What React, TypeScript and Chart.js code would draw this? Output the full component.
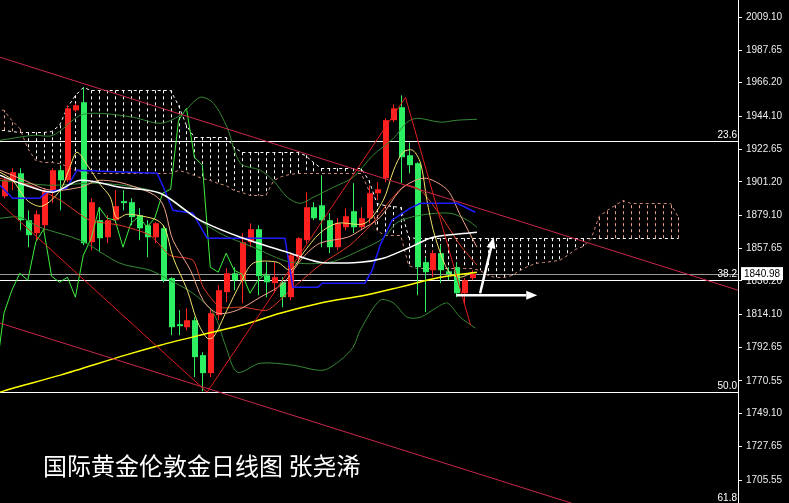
import React, { useEffect, useRef } from "react";
import { Chart, registerables } from "chart.js";
Chart.register(...registerables);

type P = [number, number];

// ---- Candles (index 0..59) ----
const opens = [1891.7, 1902.2, 1906.8, 1876.0, 1867.5, 1872.7, 1895.7, 1908.8, 1902.2, 1948.1,
  1953.4, 1861.6, 1876.0, 1864.8, 1876.0, 1888.5, 1887.8, 1879.3, 1872.7, 1864.8,
  1870.7, 1838.0, 1807.8, 1805.8, 1810.4, 1787.5, 1775.7, 1813.7, 1828.8, 1841.2,
  1836.6, 1861.6, 1870.1, 1839.9, 1834.7, 1835.3, 1825.5, 1851.7, 1862.9, 1884.5,
  1885.8, 1876.0, 1858.3, 1871.4, 1881.9, 1871.4, 1877.3, 1893.7, 1903.5, 1941.6,
  1950.1, 1918.6, 1913.4, 1848.5, 1843.2, 1854.4, 1842.5, 1845.2, 1828.1, 1838.0];
const highs = [1903.5, 1910.1, 1910.1, 1882.5, 1882.5, 1897.0, 1910.1, 1912.1, 1951.4, 1952.7,
  1963.2, 1890.4, 1884.5, 1879.3, 1895.7, 1895.7, 1890.4, 1883.9, 1876.0, 1874.7,
  1872.7, 1838.6, 1817.0, 1818.3, 1812.4, 1789.4, 1818.3, 1833.4, 1844.5, 1845.2,
  1867.5, 1874.0, 1872.7, 1848.5, 1848.5, 1838.6, 1854.4, 1864.8, 1894.4, 1887.8,
  1905.5, 1880.6, 1877.3, 1883.9, 1900.3, 1884.5, 1898.9, 1900.9, 1942.9, 1952.0,
  1957.9, 1927.1, 1914.0, 1851.7, 1856.3, 1859.6, 1845.2, 1848.5, 1838.0, 1843.2];
const lows = [1890.4, 1895.7, 1869.4, 1858.3, 1862.9, 1869.4, 1887.1, 1882.5, 1901.0, 1946.8,
  1859.6, 1856.3, 1855.0, 1860.9, 1874.0, 1882.5, 1872.7, 1862.9, 1851.7, 1860.9,
  1835.3, 1800.6, 1800.6, 1803.8, 1773.0, 1763.8, 1773.0, 1810.4, 1822.2, 1830.1,
  1821.6, 1858.3, 1826.8, 1825.5, 1828.8, 1818.9, 1823.5, 1848.5, 1860.9, 1876.0,
  1858.3, 1854.4, 1856.3, 1869.4, 1867.5, 1869.4, 1874.0, 1889.1, 1900.9, 1940.3,
  1900.3, 1906.8, 1826.8, 1815.7, 1838.6, 1834.7, 1836.6, 1825.5, 1821.0, 1836.6];
const closes = [1902.2, 1907.5, 1876.0, 1866.2, 1879.9, 1894.4, 1908.8, 1902.2, 1949.4, 1951.4,
  1860.9, 1887.8, 1864.2, 1876.0, 1885.2, 1887.2, 1878.0, 1870.7, 1864.8, 1874.0,
  1836.6, 1805.8, 1806.5, 1810.4, 1786.2, 1775.7, 1815.0, 1830.1, 1841.2, 1836.6,
  1861.6, 1870.1, 1839.3, 1835.3, 1838.6, 1825.5, 1853.0, 1864.2, 1884.5, 1877.3,
  1876.0, 1858.3, 1874.0, 1878.6, 1871.4, 1877.3, 1893.7, 1896.3, 1941.6, 1949.4,
  1917.3, 1912.1, 1845.2, 1841.9, 1854.4, 1843.2, 1840.6, 1828.1, 1836.6, 1840.98];

// ---- Ichimoku cloud (index -1..85) ----
const cloudStart = -1;
const spanA = [1935.0, 1935.0, 1934.3, 1933.7, 1933.7, 1933.7, 1933.7, 1934.3, 1938.3, 1950.1, 1958.0, 1963.2,
  1961.2, 1961.2, 1961.2, 1961.2, 1961.2, 1961.2, 1961.2, 1961.2, 1961.2, 1961.2, 1961.2,
  1951.4, 1938.3,
  1930.4, 1930.4, 1930.4, 1930.4, 1930.4,
  1923.9,
  1920.6, 1920.6, 1920.6, 1920.6, 1920.6, 1920.6, 1920.6, 1920.6,
  1918.6, 1914.0,
  1910.1, 1910.1, 1910.1, 1910.1, 1910.1, 1910.1,
  1902.2, 1887.1, 1885.8, 1885.2, 1884.5, 1864.8,
  1864.2, 1864.2, 1864.2, 1864.2, 1864.2, 1864.2, 1864.2, 1864.2, 1864.2, 1864.2,
  1864.2, 1864.2, 1864.2, 1864.2, 1864.2, 1864.2, 1864.2, 1864.2, 1864.2, 1864.2,
  1864.2, 1864.2, 1864.2, 1864.2, 1864.2, 1864.2, 1864.2, 1864.2, 1864.2, 1864.2,
  1864.2, 1864.2, 1864.2, 1864.2];
const spanB = [1949.4, 1948.1, 1941.6, 1936.3, 1923.2, 1915.3, 1914.0, 1914.0, 1913.4, 1911.4, 1908.8, 1907.5,
  1906.8, 1906.8, 1906.8, 1906.8, 1906.8, 1906.8, 1906.8, 1906.8, 1906.8, 1906.8, 1906.8,
  1908.8, 1907.5, 1905.5, 1903.5, 1902.2, 1900.3, 1898.9, 1895.7, 1894.4,
  1892.4, 1892.4, 1892.4,
  1902.2, 1904.8, 1906.2,
  1906.8, 1906.8, 1906.8, 1906.8, 1906.8, 1906.8, 1906.8, 1906.8, 1906.8,
  1895.7, 1869.4,
  1866.2, 1866.2, 1866.2,
  1846.5,
  1844.5, 1844.5, 1844.5, 1844.5, 1844.5, 1844.5, 1844.5, 1844.5,
  1843.2, 1839.9, 1838.6, 1838.6, 1839.9, 1843.2, 1845.8, 1847.8, 1848.5, 1849.1,
  1849.8, 1853.0, 1857.0, 1858.9, 1864.2, 1878.6, 1882.5, 1885.8, 1889.1,
  1887.1, 1887.1, 1887.1, 1887.1, 1887.1, 1887.1,
  1878.0];

// ---- Indicator lines [index, price] ----
const maLong: P[] = [[-0.5, 1763.2], [1.1, 1765.8], [7.1, 1774.4], [15.3, 1787.5], [19.7, 1794.0], [24.7, 1800.6],
  [30.4, 1807.8], [34.8, 1815.0], [39.8, 1821.6], [45.5, 1826.8], [49.9, 1832.1], [55.0, 1838.6], [59.6, 1841.9]];
const maWhite: P[] = [[-0.5, 1905.5], [2.0, 1900.3], [6.2, 1894.4], [9.6, 1902.2], [14.6, 1897.6], [19.7, 1893.7],
  [24.7, 1876.0], [29.8, 1864.8], [35.7, 1855.0], [39.8, 1848.5], [44.9, 1848.5], [47.8, 1851.1], [51.2, 1858.3],
  [54.1, 1864.8], [59.6, 1868.1]];
const kijun: P[] = [[-0.5, 1898.9], [1.1, 1890.4], [4.5, 1890.4], [5.4, 1894.4], [7.9, 1897.0], [9.2, 1908.8],
  [19.3, 1906.8], [20.1, 1897.6], [21.3, 1882.5], [23.8, 1880.6], [25.6, 1864.2], [35.4, 1864.2], [36.4, 1832.1],
  [39.6, 1832.1], [40.1, 1834.7], [45.5, 1834.7], [46.4, 1843.2], [47.4, 1859.6], [48.9, 1876.0], [51.2, 1883.9],
  [52.5, 1887.1], [57.1, 1887.1], [59.4, 1881.2]];
const maFast: P[] = [[-0.5, 1907.5], [1.1, 1902.2], [2.9, 1889.1], [4.8, 1885.2], [7.1, 1895.7], [8.3, 1910.7],
  [9.2, 1920.6], [10.5, 1912.1], [12.1, 1899.6], [13.4, 1891.1], [14.2, 1877.3], [15.5, 1879.9], [17.5, 1878.6],
  [19.3, 1876.0], [20.3, 1870.7], [21.3, 1851.7], [23.1, 1830.1], [24.3, 1810.4], [25.6, 1798.6], [26.4, 1799.3],
  [28.1, 1817.0], [29.8, 1834.7], [31.4, 1847.8], [34.4, 1848.5], [36.1, 1843.2], [37.7, 1854.4], [39.8, 1867.5],
  [42.0, 1874.0], [45.5, 1874.0], [47.8, 1889.1], [49.1, 1908.8], [50.3, 1920.6], [51.5, 1921.9], [52.5, 1913.4],
  [53.3, 1889.1], [54.1, 1869.4], [55.2, 1851.7], [56.2, 1841.2], [57.5, 1838.6], [59.1, 1841.9]];
const maSalmon: P[] = [[-0.5, 1908.8], [2.0, 1903.5], [5.8, 1895.7], [9.6, 1897.6], [12.1, 1902.2], [15.9, 1898.9],
  [19.7, 1889.1], [21.3, 1862.9], [23.5, 1843.2], [25.1, 1823.5], [26.9, 1815.0], [29.4, 1817.0], [32.3, 1825.5],
  [35.2, 1834.7], [37.7, 1851.7], [39.8, 1860.9], [43.3, 1864.8], [44.9, 1869.4], [47.4, 1877.9], [49.9, 1895.7],
  [51.6, 1901.6], [53.3, 1903.5], [55.9, 1895.7], [57.5, 1879.3], [59.6, 1858.3]];
const maRed: P[] = [[-0.5, 1903.5], [3.3, 1898.9], [7.1, 1889.1], [10.8, 1876.0], [14.6, 1872.7], [18.4, 1866.2],
  [20.9, 1853.0], [23.8, 1849.8], [25.1, 1832.1], [27.2, 1819.0], [30.1, 1819.0], [33.2, 1817.0], [36.1, 1830.1],
  [39.8, 1846.5], [43.6, 1859.6], [46.2, 1872.7], [48.7, 1889.1], [50.6, 1898.9], [52.5, 1895.7], [55.0, 1879.3],
  [57.5, 1859.6], [59.6, 1846.5]];
const bbUpper: P[] = [[-0.5, 1928.4], [3.7, 1931.7], [6.2, 1931.7], [9.6, 1944.8], [12.1, 1946.1], [16.3, 1943.5],
  [19.7, 1939.6], [22.2, 1944.8], [24.7, 1956.6], [26.4, 1952.7], [28.1, 1937.0], [29.8, 1913.4], [32.3, 1908.8],
  [33.9, 1902.2], [35.7, 1891.1], [37.3, 1887.1], [39.0, 1891.1], [41.5, 1897.6], [44.0, 1904.2], [46.5, 1918.6],
  [49.1, 1929.8], [50.8, 1940.3], [52.1, 1942.9], [55.0, 1940.3], [57.1, 1941.6], [59.6, 1942.2]];
const bbMid: P[] = [[-0.5, 1902.2], [5.8, 1898.9], [12.1, 1900.3], [19.3, 1894.4], [23.1, 1881.2], [27.2, 1867.5],
  [31.4, 1858.3], [36.1, 1848.5], [41.1, 1848.5], [44.9, 1856.3], [47.8, 1864.2], [49.6, 1874.7], [52.5, 1879.3],
  [56.2, 1880.6], [58.4, 1876.0], [59.6, 1871.4]];
const bbLower: P[] = [[-0.5, 1877.3], [2.0, 1878.0], [4.5, 1871.4], [9.6, 1862.9], [14.6, 1847.8], [18.4, 1843.2],
  [20.9, 1836.6], [23.8, 1828.1], [26.4, 1815.0], [27.9, 1794.0], [29.4, 1776.3], [32.3, 1782.2], [36.4, 1780.9],
  [40.2, 1777.6], [42.4, 1784.2], [44.0, 1792.7], [44.9, 1803.9], [47.4, 1823.5], [49.1, 1821.6], [50.8, 1812.4],
  [52.5, 1812.4], [54.6, 1819.0], [55.9, 1821.6], [57.5, 1812.4], [59.4, 1805.2]];
const chikouShift = 26;

// ---- Axis, levels, drawings ----
const priceTicks = [2009.10, 1987.65, 1966.20, 1944.10, 1922.65, 1901.20, 1879.10, 1857.65, 1836.20, 1814.10,
  1792.65, 1770.55, 1749.10, 1727.65, 1705.55];
const fibLevels = [1927.8, 1836.6, 1763.2, 1689.6];
const fibLabels = ["23.6", "38.2", "50.0", "61.8"];
const lastPrice = 1840.98;
const trendLines: [P, P, string][] = [
  [[-0.5, 1982.9], [92.5, 1830.1], "#c8284a"],
  [[-0.5, 1808.5], [92.5, 1656.0], "#c8284a"],
  [[-0.5, 1887.1], [25.6, 1763.2], "#e01c1c"],
  [[25.6, 1763.2], [50.6, 1956.6], "#e01c1c"],
  [[50.6, 1956.6], [58.8, 1807.1], "#e01c1c"],
];
const arrows: [P, P][] = [
  [[57.0, 1826.8], [67.2, 1826.8]],
  [[60.0, 1828.1], [61.7, 1864.8]],
];
const titleText = "国际黄金伦敦金日线图 张尧浠";

const X_MIN = -0.5, X_MAX = 92.5, Y_MIN = 1690.5, Y_MAX = 2020.45;

const underlay = {
  id: "underlay",
  beforeDatasetsDraw(c: any) {
    const { ctx, chartArea: a, scales } = c;
    const x = scales.x, y = scales.y;
    ctx.save();
    ctx.beginPath();
    ctx.rect(a.left, a.top, a.right - a.left, a.bottom - a.top);
    ctx.clip();
    // fib lines
    ctx.lineWidth = 1;
    ctx.strokeStyle = "#ffffff";
    fibLevels.forEach((v) => {
      const py = Math.round(y.getPixelForValue(v)) + 0.5;
      ctx.beginPath(); ctx.moveTo(a.left, py); ctx.lineTo(a.right, py); ctx.stroke();
    });
    const lp = Math.round(y.getPixelForValue(lastPrice)) + 0.5;
    ctx.strokeStyle = "#9a9a9a";
    ctx.beginPath(); ctx.moveTo(a.left, lp); ctx.lineTo(a.right, lp); ctx.stroke();
    // cloud hatch
    ctx.setLineDash([3, 3]);
    for (let k = 0; k < spanA.length; k++) {
      const px = Math.round(x.getPixelForValue(cloudStart + k)) + 0.5;
      const ya = y.getPixelForValue(spanA[k]);
      const yb = y.getPixelForValue(spanB[k]);
      ctx.strokeStyle = spanA[k] >= spanB[k] ? "#ffffff" : "#e8a090";
      ctx.beginPath(); ctx.moveTo(px, ya); ctx.lineTo(px, yb); ctx.stroke();
    }
    const edge = (arr: number[], color: string) => {
      ctx.strokeStyle = color;
      ctx.beginPath();
      arr.forEach((v, k) => {
        const px = x.getPixelForValue(cloudStart + k);
        const py = Math.round(y.getPixelForValue(v)) + 0.5;
        if (k) ctx.lineTo(px, py); else ctx.moveTo(px, py);
      });
      ctx.stroke();
    };
    edge(spanA, "#ffffff");
    edge(spanB, "#d08a7a");
    ctx.setLineDash([]);
    // candles
    const w = 6;
    for (let i = 0; i < opens.length; i++) {
      const up = closes[i] >= opens[i];
      const col = up ? "#ff2020" : "#2cef62";
      const cx = Math.round(x.getPixelForValue(i));
      ctx.fillStyle = col;
      const yh = y.getPixelForValue(highs[i]);
      const yl = y.getPixelForValue(lows[i]);
      ctx.fillRect(cx, yh, 1, yl - yh);
      const yo = y.getPixelForValue(opens[i]);
      const yc = y.getPixelForValue(closes[i]);
      const top = Math.min(yo, yc);
      const h = Math.max(Math.abs(yo - yc), 1.5);
      ctx.fillRect(cx - 2, top, w, h);
    }
    ctx.restore();
  },
};

const overlay = {
  id: "overlay",
  afterDatasetsDraw(c: any) {
    const { ctx, chartArea: a, scales } = c;
    const x = scales.x, y = scales.y;
    ctx.save();
    ctx.beginPath();
    ctx.rect(a.left, a.top, a.right - a.left, a.bottom - a.top);
    ctx.clip();
    ctx.lineWidth = 1;
    trendLines.forEach(([p1, p2, col]) => {
      ctx.strokeStyle = col;
      ctx.beginPath();
      ctx.moveTo(x.getPixelForValue(p1[0]), y.getPixelForValue(p1[1]));
      ctx.lineTo(x.getPixelForValue(p2[0]), y.getPixelForValue(p2[1]));
      ctx.stroke();
    });
    ctx.strokeStyle = "#ffffff";
    ctx.fillStyle = "#ffffff";
    ctx.lineWidth = 2.5;
    arrows.forEach(([p1, p2]) => {
      const x1 = x.getPixelForValue(p1[0]), y1 = y.getPixelForValue(p1[1]);
      const x2 = x.getPixelForValue(p2[0]), y2 = y.getPixelForValue(p2[1]);
      const ang = Math.atan2(y2 - y1, x2 - x1);
      const L = 11, W = 4.5;
      const bx = x2 - L * Math.cos(ang), by = y2 - L * Math.sin(ang);
      ctx.beginPath(); ctx.moveTo(x1, y1); ctx.lineTo(bx, by); ctx.stroke();
      ctx.beginPath();
      ctx.moveTo(x2, y2);
      ctx.lineTo(bx + W * Math.sin(ang), by - W * Math.cos(ang));
      ctx.lineTo(bx - W * Math.sin(ang), by + W * Math.cos(ang));
      ctx.closePath(); ctx.fill();
    });
    ctx.restore();
    // fib labels
    ctx.save();
    ctx.font = '10px "Liberation Sans", Arial, sans-serif';
    ctx.fillStyle = "#ffffff";
    ctx.textAlign = "right";
    ctx.textBaseline = "bottom";
    fibLevels.forEach((v, k) => {
      const py = Math.min(y.getPixelForValue(v) - 1, a.bottom);
      ctx.fillText(fibLabels[k], a.right - 1, py);
    });
    // last price box
    const lp = y.getPixelForValue(lastPrice);
    ctx.fillStyle = "#ffffff";
    ctx.fillRect(a.right + 3, lp - 6.5, 42, 13);
    ctx.fillStyle = "#000000";
    ctx.textAlign = "left";
    ctx.textBaseline = "middle";
    ctx.fillText(lastPrice.toFixed(2), a.right + 6, lp + 0.5);
    ctx.restore();
  },
};

const bg = {
  id: "bg",
  beforeDraw(c: any) {
    const ctx = c.ctx;
    ctx.save();
    ctx.fillStyle = "#000000";
    ctx.fillRect(0, 0, c.width, c.height);
    ctx.restore();
  },
};

const line = (pts: P[], color: string, width: number, tension = 0) => ({
  data: pts.map(([px, py]) => ({ x: px, y: py })),
  borderColor: color,
  borderWidth: width,
  pointRadius: 0,
  tension,
  fill: false,
});

export default function App() {
  const ref = useRef<HTMLCanvasElement>(null);
  useEffect(() => {
    const chikou: P[] = closes.slice(chikouShift - 1).map((v, k) => [k - 1, v] as P);
    const chart = new Chart(ref.current as HTMLCanvasElement, {
      type: "line",
      data: {
        datasets: [
          line(maLong, "#ffff00", 1.5, 0.3),
          line(maWhite, "#ffffff", 1.5, 0.3),
          line(kijun, "#1c1cff", 1.5, 0),
          line(maFast, "#f2e26a", 1, 0.3),
          line(maSalmon, "#f4a28a", 1, 0.3),
          line(maRed, "#e23a22", 1, 0.2),
          line(bbUpper, "#358a35", 1, 0.3),
          line(bbMid, "#358a35", 1, 0.3),
          line(bbLower, "#358a35", 1, 0.3),
          line(chikou, "#3ef03e", 1, 0),
        ] as any,
      },
      options: {
        responsive: false,
        maintainAspectRatio: false,
        animation: false,
        events: [],
        layout: { padding: 0 },
        plugins: { legend: { display: false }, tooltip: { enabled: false }, title: { display: false } },
        scales: {
          x: { type: "linear", min: X_MIN, max: X_MAX, display: false },
          y: {
            type: "linear",
            position: "right",
            min: Y_MIN,
            max: Y_MAX,
            afterBuildTicks: (s: any) => { s.ticks = priceTicks.map((v) => ({ value: v })); },
            afterFit: (s: any) => { s.width = 51; s.paddingTop = 0; s.paddingBottom = 0; },
            ticks: {
              color: "#ececec",
              font: { family: "Liberation Sans", size: 10 },
              padding: 4,
              callback: (v: any) => Number(v).toFixed(2),
            },
            grid: { display: true, drawOnChartArea: false, drawTicks: true, tickLength: 4, color: "#ffffff" },
            border: { display: true, color: "#ffffff", width: 1 },
          },
        },
      } as any,
      plugins: [bg, underlay, overlay],
    });
    return () => chart.destroy();
  }, []);
  return (
    <div style={{ position: "absolute", left: 0, top: 0, width: 789, height: 503, background: "#000", overflow: "hidden" }}>
      <canvas ref={ref} width={789} height={503} style={{ display: "block", width: 789, height: 503 }} />
      <div
        style={{
          position: "absolute",
          left: 43,
          top: 451,
          color: "#ffffff",
          fontFamily: '"Noto Sans CJK SC", sans-serif',
          fontSize: 24,
          lineHeight: "28px",
          whiteSpace: "nowrap",
        }}
      >
        {titleText}
      </div>
    </div>
  );
}
